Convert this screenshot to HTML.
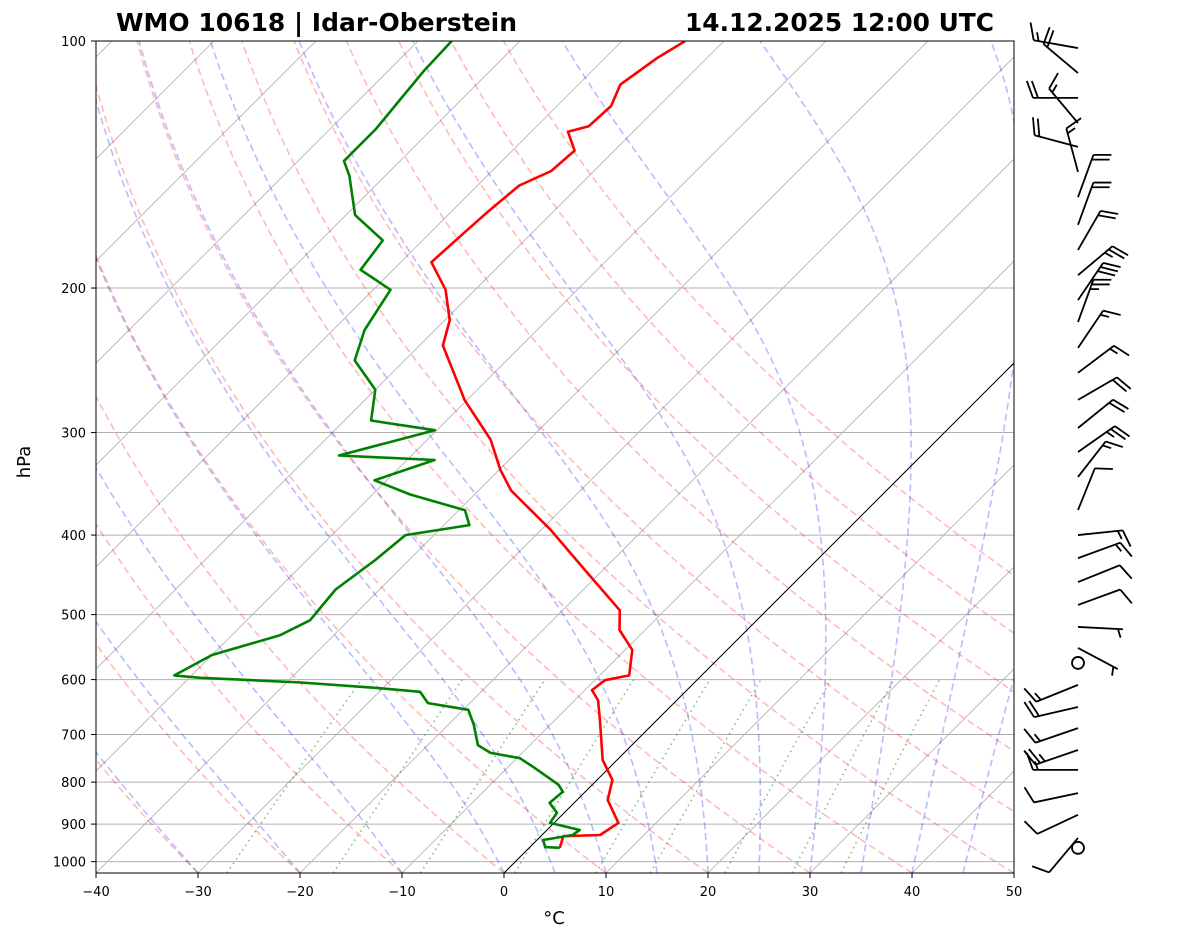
<!DOCTYPE html>
<html><head><meta charset="utf-8"><style>
html,body{margin:0;padding:0;background:#fff;}
svg{display:block;font-family:"DejaVu Sans","Liberation Sans",sans-serif;}
</style></head><body>
<svg id="chart" width="1181" height="941" viewBox="0 0 1181 941" xmlns="http://www.w3.org/2000/svg">
<defs><clipPath id="plotclip"><rect x="96" y="41" width="918" height="832"/></clipPath></defs>
<rect x="0" y="0" width="1181" height="941" fill="#fff"/>
<g id="bg" clip-path="url(#plotclip)"></g>
<g id="prof" clip-path="url(#plotclip)"></g>
<rect x="96" y="41" width="918" height="832" fill="none" stroke="#000" stroke-width="1"/>
<g id="axes"></g>
<g id="barbs"></g>
<text x="116" y="31" font-size="24.8" font-weight="bold" textLength="401" lengthAdjust="spacingAndGlyphs">WMO 10618 | Idar-Oberstein</text>
<text x="685" y="31" font-size="24.8" font-weight="bold" textLength="309" lengthAdjust="spacingAndGlyphs">14.12.2025 12:00 UTC</text>
<text x="30" y="462" font-size="18" text-anchor="middle" transform="rotate(-90 30 462)">hPa</text>
<text x="554" y="924" font-size="18" text-anchor="middle">°C</text>
</svg>
<script>
const tempP = [100,105,113,120,127,129,136,144,150,161,172,186,201,219,235,274,306,333,353,394,441,494,522,552,593,601,618,636,672,752,795,841,897,928,931,962];
const tempT = [-63.8,-64.9,-65.9,-64.7,-64.9,-66.4,-63.9,-64.2,-65.9,-66.4,-66.7,-67.0,-62.9,-59.5,-57.7,-50.2,-43.8,-39.9,-36.8,-29.1,-21.8,-14.4,-12.5,-9.3,-7.1,-9.0,-9.3,-7.7,-5.6,-1.4,1.5,3.0,6.3,5.7,2.2,3.0];
const dewP = [100,108.5,118,128,140,146,163,175,190,201,225,245,266,290,298,320,324,343,357,373,389,400,429,466,508,530,560,593,597,605,614,621,641,653,681,721,737,748,767,806,822,848,872,897,915,928,941,960,962];
const dewT = [-86.7,-86.5,-86.0,-85.5,-85.5,-83.5,-79.1,-73.9,-73.2,-68.3,-66.9,-64.9,-60.0,-57.4,-50.2,-57.1,-47.3,-51.2,-46.3,-39.4,-37.5,-42.8,-43.3,-44.3,-43.8,-45.3,-50.0,-51.7,-48.9,-38.6,-30.8,-26.0,-24.1,-19.5,-17.5,-15.1,-13.1,-9.7,-7.5,-3.3,-2.2,-2.4,-0.7,-0.4,3.2,3.0,0.6,1.5,3.0];
const pTicks = [100,200,300,400,500,600,700,800,900,1000];
const tTicks = [-40,-30,-20,-10,0,10,20,30,40,50];
const barbP = [102,109.4,117.3,125.9,134.6,144.4,155,167.5,179.7,192.9,206.9,220,236.6,253.7,273.7,296.2,316.8,339.8,372.9,400,426.7,456.4,486.6,517.6,549,572.6,609,648,687.5,731,773,825,877,935.7,962];
const barbDir = [190,220,180,230,195,255,290,290,300,320,304,290,304,323,330,321,325,308,292,354,340,338,340,3,28,0,158,167,161,161,180,168,155,130,0];
const barbSpd = [15,20,20,15,20,15,20,20,20,25,30,25,15,15,20,20,25,15,10,15,15,10,10,5,5,0,15,20,15,25,15,10,10,10,0];

const NS='http://www.w3.org/2000/svg';
const X0=96,Y0=41,YB=873,K=356.4,PX=10.2;
const pBot=100*Math.exp((YB-Y0)/K);
function yP(p){return Y0+K*Math.log(p/100);}
function xT(t,p){return X0+(t+40)*PX+(YB-yP(p));}
function mk(tag,attrs,parent){const e=document.createElementNS(NS,tag);for(const k in attrs)e.setAttribute(k,attrs[k]);parent.appendChild(e);return e;}
function pathFrom(ps,ts){let d='';for(let i=0;i<ps.length;i++){d+=(i?'L':'M')+xT(ts[i],ps[i]).toFixed(1)+','+yP(ps[i]).toFixed(1);}return d;}
const bg=document.getElementById('bg'),prof=document.getElementById('prof'),axes=document.getElementById('axes'),barbs=document.getElementById('barbs');

pTicks.forEach(p=>{const l=mk('line',{x1:X0,x2:1014,y1:yP(p),y2:yP(p),stroke:'#b0b0b0','stroke-width':1},bg);

});
for(let t=-140;t<=50;t+=10){const l=mk('line',{x1:xT(t,pBot),y1:YB,x2:xT(t,pBot)+900,y2:YB-900,stroke:'#b0b0b0','stroke-width':0.8},bg);

}
const levs=[];for(let p=pBot;p>=95;p-=5)levs.push(p);
for(let t0=-40;t0<=100;t0+=10){const th=t0+273.15;const ts=levs.map(p=>th*Math.pow(p/pBot,0.2857)-273.15);
const e=mk('path',{d:pathFrom(levs,ts),fill:'none',stroke:'rgba(255,0,0,0.27)','stroke-width':1.6,'stroke-dasharray':'7,4'},bg);

}
function es(tc){return 6.112*Math.exp(17.67*tc/(tc+243.5));}
const moistT0=[-40,-30,-20,-10,0,5,10,15,20,25,30,35,40,45,50];
moistT0.forEach(t0=>{let T=t0+273.15;const ts=[];
for(let i=0;i<levs.length;i++){ts.push(T-273.15);if(i<levs.length-1){const p=levs[i],dp=levs[i+1]-p;
const f=(T,p)=>{const e=es(T-273.15);const rs=0.622*e/(p-e);return (287*T+2.5e6*rs)/(p*(1005+2.5e6*2.5e6*rs*0.622/(287*T*T)));};
const k1=f(T,p),k2=f(T+k1*dp/2,p+dp/2),k3=f(T+k2*dp/2,p+dp/2),k4=f(T+k3*dp,p+dp);T+=dp*(k1+2*k2+2*k3+k4)/6;}}
const e=mk('path',{d:pathFrom(levs,ts),fill:'none',stroke:'rgba(0,0,255,0.27)','stroke-width':1.6,'stroke-dasharray':'7,4'},bg);

});
[0.0004,0.001,0.002,0.004,0.007,0.01,0.016,0.024,0.032].forEach(w=>{const ps=[];for(let p=pBot;p>=600;p-=10)ps.push(p);ps.push(600);
const ts=ps.map(p=>{const e=p*w/(0.622+w);const l=Math.log(e/6.112);return 243.5*l/(17.67-l);});
const e=mk('path',{d:pathFrom(ps,ts),fill:'none',stroke:'rgba(0,128,0,0.5)','stroke-width':1.6,'stroke-dasharray':'1.5,4'},bg);

});
const z=mk('line',{x1:xT(0,pBot),y1:YB,x2:xT(0,pBot)+900,y2:YB-900,stroke:'#000','stroke-width':1},bg);


const tp=mk('path',{d:pathFrom(tempP,tempT),fill:'none',stroke:'#ff0000','stroke-width':2.6,'stroke-linejoin':'round'},prof);


const dp=mk('path',{d:pathFrom(dewP,dewT),fill:'none',stroke:'#008000','stroke-width':2.6,'stroke-linejoin':'round'},prof);


pTicks.forEach(p=>{const y=yP(p);mk('line',{x1:X0-5,x2:X0,y1:y,y2:y,stroke:'#000'},axes);
const t=mk('text',{x:X0-10,y:y+5,'font-size':13,'text-anchor':'end'},axes);t.textContent=p;

});
tTicks.forEach(v=>{const x=X0+(v+40)*PX;mk('line',{x1:x,x2:x,y1:YB,y2:YB+5,stroke:'#000'},axes);
const t=mk('text',{x:x,y:YB+23,'font-size':13,'text-anchor':'middle'},axes);t.textContent=(v<0?'\u2212'+(-v):v);

});
const BX=1078,L=45;
barbP.forEach((p,i)=>{const y=yP(p);const g=mk('g',{},barbs);


if(barbSpd[i]<2.5){mk('circle',{cx:BX,cy:y,r:6,fill:'none',stroke:'#000','stroke-width':1.8},g);return;}
const a=barbDir[i]*Math.PI/180,dx=Math.cos(a),dy=Math.sin(a);
const tx=BX+L*dx,ty=y+L*dy;
mk('line',{x1:BX,y1:y,x2:tx,y2:ty,stroke:'#000','stroke-width':1.8},g);
const fa=a+70*Math.PI/180,fx=Math.cos(fa),fy=Math.sin(fa);
let s=Math.round(barbSpd[i]/5)*5,pos=0;
while(s>=50){const bx=tx-dx*pos,by=ty-dy*pos;mk('polygon',{points:`${bx},${by} ${bx+18*fx},${by+18*fy} ${bx-dx*7},${by-dy*7}`,fill:'#000'},g);pos+=9;s-=50;}
while(s>=10){const bx=tx-dx*pos,by=ty-dy*pos;mk('line',{x1:bx,y1:by,x2:bx+18*fx,y2:by+18*fy,stroke:'#000','stroke-width':1.8},g);pos+=5;s-=10;}
if(s>=5){if(pos===0)pos=5;const bx=tx-dx*pos,by=ty-dy*pos;mk('line',{x1:bx,y1:by,x2:bx+9*fx,y2:by+9*fy,stroke:'#000','stroke-width':1.8},g);}
});
</script>
</body></html>
